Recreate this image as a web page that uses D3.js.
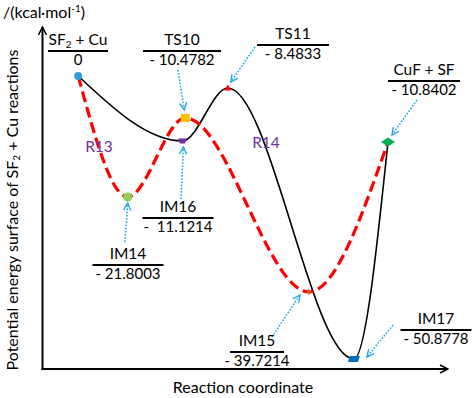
<!DOCTYPE html>
<html>
<head>
<meta charset="utf-8">
<script src="https://cdn.jsdelivr.net/npm/d3@7"></script>
<style>
  body { margin: 0; background: #fff; }
  text { font-family: Lato, "Open Sans", sans-serif; }
</style>
</head>
<body>
<div class="container"></div>
<script>
const width = 474;
const height = 398;

// species on the surface, their energies (kcal/mol) and where they sit in the schematic
const species = ['SF2+Cu', 'IM14', 'TS10', 'IM16', 'TS11', 'IM15', 'IM17', 'CuF+SF'];
const energyLabels = ['0', '- 21.8003', '- 10.4782', '-  11.1214', '- 8.4833', '- 39.7214', '- 50.8778', '- 10.8402'];
const coordinate = [0.88, 2.1, 3.52, 3.45, 4.57, 6.57, 7.68, 8.52];
const drawnLevel = [0, -21.75, -7.55, -11.69, -2.16, -38.83, -50.88, -11.87];

const pathR13 = ['SF2+Cu', 'IM14', 'TS10', 'IM15', 'CuF+SF'];
const pathR14 = ['SF2+Cu', 'IM16', 'TS11', 'IM17', 'CuF+SF'];

const points = species.map((s, i) => ({ name: s, e: energyLabels[i], x: coordinate[i], y: drawnLevel[i] }));
const byName = Object.fromEntries(points.map(d => [d.name, d]));

// label boxes: centre x, rule y, rule width, arrow start / arrow end offset from the marker
const labelLayout = {
  'SF2+Cu': { cx: 78,  ly: 51,  w: 60 },
  'TS10':   { cx: 182, ly: 51,  w: 78, from: [178, 70],  to: [-1, -8] },
  'TS11':   { cx: 293, ly: 45,  w: 72, from: [255, 47],  to: [3, -6] },
  'CuF+SF': { cx: 424, ly: 81,  w: 72, from: [417, 100], to: [4, -7] },
  'IM16':   { cx: 178, ly: 218, w: 71, from: [181, 199], to: [1, 6] },
  'IM14':   { cx: 128, ly: 265, w: 71, from: [125, 242], to: [0, 6] },
  'IM15':   { cx: 257, ly: 352, w: 54, from: [272, 337], to: [-9, 3] },
  'IM17':   { cx: 436, ly: 330, w: 71, from: [393, 325], to: [13, -2] }
};

const styles = {
  'SF2+Cu': { fill: '#2d9fd9', shape: 'circle', s: 4 },
  'IM14':   { fill: '#92d050', shape: 'circle', s: 4.5 },
  'TS10':   { fill: '#ffc000', shape: 'square', s: 9 },
  'IM16':   { fill: '#7030a0', shape: 'trap', s: 9 },
  'TS11':   { fill: '#ff0000', shape: 'tri', s: 7 },
  'IM15':   { fill: '#c55a11', shape: 'star4', s: 7 },
  'IM17':   { fill: '#0070c0', shape: 'para', s: 12 },
  'CuF+SF': { fill: '#00b050', shape: 'diamond', s: 14 }
};

const svg = d3.select('.container')
  .append('svg')
  .attr('width', width)
  .attr('height', height);

svg.append('rect').attr('width', width).attr('height', height).attr('fill', '#fff');

const x = d3.scaleLinear().domain([0, 10]).range([42.5, 448]);
const y = d3.scaleLinear().domain([-52.68, 8.81]).range([369, 27]);

const defs = svg.append('defs');
defs.append('marker')
  .attr('id', 'axisHead')
  .attr('viewBox', '0 0 10 10')
  .attr('refX', 9).attr('refY', 5)
  .attr('markerWidth', 10).attr('markerHeight', 10)
  .attr('markerUnits', 'userSpaceOnUse')
  .attr('orient', 'auto')
  .append('path')
  .attr('d', 'M1,1 L9,5 L1,9')
  .attr('fill', 'none')
  .attr('stroke', '#000')
  .attr('stroke-width', 1.5);
defs.append('marker')
  .attr('id', 'cyanHead')
  .attr('viewBox', '0 0 10 10')
  .attr('refX', 9).attr('refY', 5)
  .attr('markerWidth', 9).attr('markerHeight', 9)
  .attr('markerUnits', 'userSpaceOnUse')
  .attr('orient', 'auto')
  .append('path')
  .attr('d', 'M1,1 L9,5 L1,9')
  .attr('fill', 'none')
  .attr('stroke', '#1ba8e2')
  .attr('stroke-width', 1.5);

// axes
svg.append('line')
  .attr('x1', x(0)).attr('x2', x(0))
  .attr('y1', y.range()[0] + 1).attr('y2', y.range()[1])
  .attr('stroke', '#000').attr('stroke-width', 2)
  .attr('marker-end', 'url(#axisHead)');
svg.append('line')
  .attr('x1', x(0) - 1).attr('x2', x.range()[1])
  .attr('y1', y.range()[0]).attr('y2', y.range()[0])
  .attr('stroke', '#000').attr('stroke-width', 2)
  .attr('marker-end', 'url(#axisHead)');

const unit = svg.append('text')
  .attr('x', 3).attr('y', 18)
  .attr('font-size', 16)
  .attr('fill', '#000');
unit.append('tspan').text('/(kcal·mol');
unit.append('tspan').attr('dy', -6).attr('font-size', 10).text('-1');
unit.append('tspan').attr('dy', 6).text(')');

const yTitle = svg.append('text')
  .attr('transform', 'translate(18,210) rotate(-90)')
  .attr('text-anchor', 'middle')
  .attr('font-size', 16)
  .attr('fill', '#000');
yTitle.append('tspan').text('Potential energy surface of SF');
yTitle.append('tspan').attr('font-size', 10).attr('dy', 2).text('2');
yTitle.append('tspan').attr('dy', -2).text(' + Cu reactions');

svg.append('text')
  .attr('x', 243).attr('y', 393)
  .attr('text-anchor', 'middle')
  .attr('font-size', 16)
  .text('Reaction coordinate');

// reaction paths
const line = d3.line()
  .x(d => x(d.x))
  .y(d => y(d.y))
  .curve(d3.curveMonotoneX);

svg.append('path')
  .datum(pathR14.map(n => byName[n]))
  .attr('d', line)
  .attr('fill', 'none')
  .attr('stroke', '#000')
  .attr('stroke-width', 1.6);

svg.append('path')
  .datum(pathR13.map(n => byName[n]))
  .attr('d', line)
  .attr('fill', 'none')
  .attr('stroke', '#ff0000')
  .attr('stroke-width', 3.2)
  .attr('stroke-dasharray', '11,5');

// path labels
svg.append('text').attr('x', 99).attr('y', 152).attr('text-anchor', 'middle')
  .attr('font-size', 15.5).attr('fill', '#7030a0').text('R13');
svg.append('text').attr('x', 266).attr('y', 148).attr('text-anchor', 'middle')
  .attr('font-size', 15.5).attr('fill', '#7030a0').text('R14');

// marker shapes
function shapePath(kind, s) {
  const h = s / 2;
  switch (kind) {
    case 'circle': return d3.symbol(d3.symbolCircle, Math.PI * s * s)();
    case 'square': return `M${-h},${-h * 0.9}H${h}V${h * 0.9}H${-h}Z`;
    case 'tri': return `M0,${-h}L${h},${h * 0.7}L${-h},${h * 0.7}Z`;
    case 'trap': return `M${-h},${-2.5}H${h}L${h - 2},${2.5}H${-h + 2}Z`;
    case 'star4': return `M0,${-h}L${h * 0.3},${-h * 0.3}L${h},0L${h * 0.3},${h * 0.3}L0,${h}L${-h * 0.3},${h * 0.3}L${-h},0L${-h * 0.3},${-h * 0.3}Z`;
    case 'para': return `M${-h + 2},${-3}H${h}L${h - 2},${3}H${-h}Z`;
    case 'diamond': return `M0,${-4.5}L${h},0L0,${4.5}L${-h},0Z`;
  }
}

svg.append('g')
  .selectAll('path')
  .data(points)
  .enter()
  .append('path')
  .attr('transform', d => `translate(${x(d.x)},${y(d.y)})`)
  .attr('d', d => shapePath(styles[d.name].shape, styles[d.name].s))
  .attr('fill', d => styles[d.name].fill);

// arrows from labels
const arrowData = points.filter(d => labelLayout[d.name].from);
svg.append('g')
  .selectAll('line')
  .data(arrowData)
  .enter()
  .append('line')
  .attr('x1', d => labelLayout[d.name].from[0])
  .attr('y1', d => labelLayout[d.name].from[1])
  .attr('x2', d => x(d.x) + labelLayout[d.name].to[0])
  .attr('y2', d => y(d.y) + labelLayout[d.name].to[1])
  .attr('stroke', '#1ba8e2')
  .attr('stroke-width', 1.6)
  .attr('stroke-dasharray', '1.6,1.6')
  .attr('marker-end', 'url(#cyanHead)');

// name / rule / energy labels
const labels = svg.append('g')
  .selectAll('g')
  .data(points)
  .enter()
  .append('g')
  .attr('transform', d => `translate(${labelLayout[d.name].cx},${labelLayout[d.name].ly})`);

labels.append('line')
  .attr('x1', d => -labelLayout[d.name].w / 2)
  .attr('x2', d => labelLayout[d.name].w / 2)
  .attr('stroke', '#000')
  .attr('stroke-width', 2);

labels.append('text')
  .attr('y', -6)
  .attr('text-anchor', 'middle')
  .attr('font-size', 15.5)
  .each(function (d) {
    const t = d3.select(this);
    if (d.name === 'SF2+Cu') {
      t.append('tspan').text('SF');
      t.append('tspan').attr('font-size', 10).attr('dy', 3).text('2');
      t.append('tspan').attr('dy', -3).text('  + Cu');
    } else if (d.name === 'CuF+SF') {
      t.text('CuF + SF');
    } else {
      t.text(d.name);
    }
  });

labels.append('text')
  .attr('y', 14)
  .attr('text-anchor', 'middle')
  .attr('font-size', 15)
  .attr('xml:space', 'preserve')
  .text(d => d.e);
</script>
</body>
</html>
